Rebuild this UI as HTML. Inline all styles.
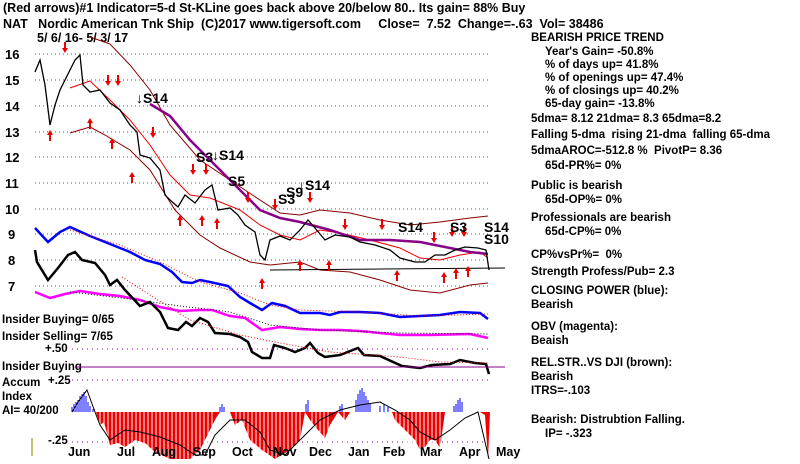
<!DOCTYPE html>
<html><head><meta charset="utf-8"><style>
body{margin:0;background:#fff;width:800px;height:459px;overflow:hidden}
svg text{font-family:"Liberation Sans",sans-serif;font-weight:bold;fill:#000;white-space:pre}
</style></head><body>
<svg width="800" height="459" viewBox="0 0 800 459" xmlns="http://www.w3.org/2000/svg" xml:space="preserve">
<g font-size="12.5">
<text x="3" y="12">(Red arrows)#1 Indicator=5-d St-KLine goes back above 20/below 80.. Its gain= 88% Buy</text>
<text x="3" y="28">NAT   Nordic American Tnk Ship  (C)2017 www.tigersoft.com     Close=  7.52  Change=-.63  Vol= 38486</text>
<text x="37" y="42">5/ 6/ 16- 5/ 3/ 17</text>
</g>
<g font-size="13" font-weight="normal">
<text x="5" y="59">16</text><text x="5" y="85">15</text><text x="5" y="111">14</text><text x="5" y="137">13</text>
<text x="5" y="162">12</text><text x="5" y="188">11</text><text x="5" y="214">10</text><text x="8" y="239">9</text>
<text x="8" y="265">8</text><text x="8" y="291">7</text>
</g>
<g stroke="#090" stroke-dasharray="1,3" stroke-width="1">
<line x1="35" y1="54" x2="490" y2="54"/><line x1="35" y1="80" x2="490" y2="80"/><line x1="35" y1="106" x2="490" y2="106"/>
<line x1="35" y1="132" x2="490" y2="132"/><line x1="35" y1="157" x2="490" y2="157"/><line x1="35" y1="183" x2="490" y2="183"/>
<line x1="35" y1="209" x2="490" y2="209"/><line x1="35" y1="234" x2="490" y2="234"/><line x1="35" y1="260" x2="490" y2="260"/>
<line x1="35" y1="286" x2="490" y2="286"/>
</g>
<polyline fill="none" stroke="#800" stroke-width="1" points="70,133 90,127 105,135 130,150 150,170 175,210 200,235 220,248 250,262 270,265 300,262 320,270 350,272 380,280 410,290 440,293 470,285 488,283"/>
<polyline fill="none" stroke="#800" stroke-width="1" points="90,37 110,44 130,65 150,90 170,125 200,160 230,180 260,200 280,213 300,215 320,210 350,213 380,220 410,225 440,222 470,218 488,216"/>
<polyline fill="none" stroke="#e00" stroke-width="1" points="70,88 90,81 110,100 130,120 150,145 170,175 190,195 210,198 240,210 260,225 280,235 300,240 320,230 340,233 370,240 400,248 420,258 440,260 460,255 480,252 488,258"/>
<polyline fill="none" stroke="#808" stroke-width="2.5" points="150,104 170,116 190,140 210,160 230,180 260,210 280,218 300,222 330,230 360,240 390,240 420,242 450,248 470,252 488,254"/>
<line x1="270" y1="270" x2="505" y2="268" stroke="#000"/>
<polyline fill="none" stroke="#000" stroke-width="1.3" points="35,72 40,60 45,85 50,125 55,105 60,90 65,80 70,70 75,60 80,55 83,85 90,92 100,90 110,103 120,110 130,125 137,132 140,155 150,158 160,170 165,195 170,200 178,207 185,195 195,203 205,190 212,185 218,210 230,208 238,215 245,225 255,232 260,255 265,260 270,240 280,236 290,240 300,230 308,220 315,228 325,240 335,235 350,237 360,242 375,245 390,250 400,258 415,262 425,262 435,255 445,255 455,250 465,247 478,248 486,250 489,270"/>
<g fill="#e00">
<path d="M50,130 l-3,5 h2 v6 h2 v-6 h2z"/><path d="M90,118 l-3,5 h2 v6 h2 v-6 h2z"/><path d="M112,138 l-3,5 h2 v6 h2 v-6 h2z"/>
<path d="M132,172 l-3,5 h2 v6 h2 v-6 h2z"/><path d="M180,215 l-3,5 h2 v6 h2 v-6 h2z"/><path d="M202,215 l-3,5 h2 v6 h2 v-6 h2z"/>
<path d="M217,218 l-3,5 h2 v6 h2 v-6 h2z"/><path d="M262,278 l-3,5 h2 v6 h2 v-6 h2z"/><path d="M300,260 l-3,5 h2 v6 h2 v-6 h2z"/>
<path d="M329,260 l-3,5 h2 v6 h2 v-6 h2z"/><path d="M397,270 l-3,5 h2 v6 h2 v-6 h2z"/><path d="M444,272 l-3,5 h2 v6 h2 v-6 h2z"/>
<path d="M456,268 l-3,5 h2 v6 h2 v-6 h2z"/><path d="M468,266 l-3,5 h2 v6 h2 v-6 h2z"/>
<path d="M65,53 l-3,-5 h2 v-6 h2 v6 h2z"/><path d="M108,86 l-3,-5 h2 v-6 h2 v6 h2z"/><path d="M118,86 l-3,-5 h2 v-6 h2 v6 h2z"/>
<path d="M153,138 l-3,-5 h2 v-6 h2 v6 h2z"/><path d="M193,175 l-3,-5 h2 v-6 h2 v6 h2z"/><path d="M206,175 l-3,-5 h2 v-6 h2 v6 h2z"/>
<path d="M248,203 l-3,-5 h2 v-6 h2 v6 h2z"/><path d="M275,210 l-3,-5 h2 v-6 h2 v6 h2z"/><path d="M310,203 l-3,-5 h2 v-6 h2 v6 h2z"/>
<path d="M345,230 l-3,-5 h2 v-6 h2 v6 h2z"/><path d="M382,230 l-3,-5 h2 v-6 h2 v6 h2z"/><path d="M434,243 l-3,-5 h2 v-6 h2 v6 h2z"/>
<path d="M452,237 l-3,-5 h2 v-6 h2 v6 h2z"/><path d="M464,237 l-3,-5 h2 v-6 h2 v6 h2z"/>
</g>
<g font-size="14" font-weight="normal">
<text x="136" y="103">↓S14</text><text x="196" y="162">S3</text><text x="212" y="160">↓S14</text>
<text x="228" y="186">S5</text><text x="278" y="204">S3</text><text x="286" y="197">S9</text><text x="298" y="190">↓S14</text>
<text x="398" y="232">S14</text><text x="450" y="232">S3</text><text x="484" y="232">S14</text><text x="484" y="244">S10</text>
</g>
<polyline fill="none" stroke="#00f" stroke-width="2.5" points="35,228 48,242 60,232 70,227 90,236 100,240 115,246 130,252 145,260 160,264 172,272 182,282 192,283 200,280 210,282 228,286 240,297 250,303 262,310 272,303 285,306 300,313 320,313 330,315 340,312 360,312 380,313 400,317 420,316 440,315 460,312 480,313 488,319"/>
<polyline fill="none" stroke="#e00" stroke-width="1" stroke-dasharray="1,2" points="70,230 120,245 160,262 200,282 240,293 270,305 300,310 360,312 420,316 488,314"/>
<polyline fill="none" stroke="#f0f" stroke-width="2.5" points="35,292 50,298 65,294 80,291 100,294 120,296 140,300 160,307 180,311 200,310 212,310 230,316 245,318 262,330 280,327 300,329 320,330 340,330 360,331 400,335 430,335 470,334 488,338"/>
<polyline fill="none" stroke="#000" stroke-width="1" stroke-dasharray="1,2" points="70,292 130,299 180,306 230,312 270,325 320,330 400,333 488,334"/>
<polyline fill="none" stroke="#000" stroke-width="2.5" points="35,250 37,262 48,280 58,268 68,255 75,252 82,260 95,263 105,275 110,285 117,280 125,290 140,306 150,302 160,312 168,328 178,330 186,322 192,326 200,318 208,322 215,333 230,334 240,337 248,342 252,352 262,358 270,358 274,345 285,348 295,352 305,348 310,343 318,353 325,357 340,355 358,348 364,355 380,356 402,366 420,368 432,365 450,364 460,360 475,363 486,364 489,374"/>
<polyline fill="none" stroke="#e00" stroke-width="1" stroke-dasharray="1,2" points="122,277 150,295 190,320 240,335 280,343 330,352 400,357 440,362 488,363"/>
<g font-size="11.5">
<text x="2" y="323">Insider Buying= 0/65</text>
<text x="2" y="340">Insider Selling= 7/65</text>
<text x="45" y="352">+.50</text>
<text x="2" y="370">Insider Buying</text>
<text x="2" y="386">Accum</text><text x="48" y="384">+.25</text>
<text x="2" y="400">Index</text>
<text x="2" y="414">AI= 40/200</text>
<text x="48" y="444">-.25</text>
</g>
<g stroke="#808" stroke-dasharray="1,4"><line x1="72" y1="349" x2="490" y2="349"/><line x1="72" y1="380" x2="490" y2="380"/><line x1="72" y1="442" x2="490" y2="442"/></g>
<line x1="75" y1="367" x2="505" y2="367" stroke="#808"/>
<line x1="32" y1="438" x2="32" y2="456" stroke="#880"/>
<g stroke-width="1">
<path stroke="#00f" d="M72,412v-5M74,412v-8M76,412v-10M78,412v-12M80,412v-16M82,412v-18M84,412v-20M86,412v-16M88,412v-10M90,412v-6M93,412v-3M220,412v-5M222,412v-8M224,412v-5M306,412v-8M308,412v-12M340,412v-6M342,412v-8M356,412v-12M358,412v-18M360,412v-22M362,412v-24M364,412v-20M366,412v-16M368,412v-12M370,412v-8M380,412v-6M384,412v-8M388,412v-5M454,412v-6M456,412v-8M458,412v-12M460,412v-14M462,412v-10"/>
</g>
<path fill="#e00" stroke="none" d="M96,412 L100,425 104,422 110,445 118,443 125,447 135,440 145,443 155,452 170,459 190,459 200,450 210,430 216,418 220,412 230,412 235,425 242,420 250,440 262,450 275,459 290,450 300,440 305,412 310,420 318,430 325,438 330,425 338,412 345,420 350,412 356,412 300,412 Z M392,412 L395,420 405,430 415,440 420,450 425,447 430,440 435,440 440,448 445,412 Z M480,412 L485,415 488,459 490,412 Z"/>
<g stroke="#fff" stroke-width="1">
<path d="M100,412v47M104,412v47M108,412v47M112,412v47M116,412v47M120,412v47M124,412v47M128,412v47M132,412v47M136,412v47M140,412v47M144,412v47M148,412v47M152,412v47M156,412v47M160,412v47M164,412v47M168,412v47M172,412v47M176,412v47M180,412v47M184,412v47M188,412v47M192,412v47M196,412v47M200,412v47M204,412v47M208,412v47M212,412v47M236,412v47M240,412v47M244,412v47M248,412v47M252,412v47M256,412v47M260,412v47M264,412v47M268,412v47M272,412v47M276,412v47M280,412v47M284,412v47M288,412v47M292,412v47M296,412v47M300,412v47M312,412v47M316,412v47M320,412v47M324,412v47M328,412v47M344,412v47M396,412v47M400,412v47M404,412v47M408,412v47M412,412v47M416,412v47M420,412v47M424,412v47M428,412v47M432,412v47M436,412v47M440,412v47"/>
</g>
<polyline fill="none" stroke="#000" stroke-width="1" points="72,412 78,402 87,390 95,412 100,425 110,440 125,430 140,432 160,437 180,445 195,455 205,455 215,435 230,420 245,420 260,432 270,450 285,455 300,440 320,420 340,410 360,405 380,402 395,410 410,420 420,432 435,440 450,430 465,418 478,412 489,459"/>
<g font-size="12.5">
<text x="68" y="456">Jun</text><text x="117" y="456">Jul</text><text x="152" y="456">Aug</text><text x="193" y="456">Sep</text><text x="232" y="456">Oct</text><text x="273" y="456">Nov</text><text x="309" y="456">Dec</text><text x="348" y="456">Jan</text><text x="383" y="456">Feb</text><text x="420" y="456">Mar</text><text x="459" y="456">Apr</text><text x="496" y="456">May</text>
</g>
<g font-size="11.5">
<text x="531" y="41">BEARISH PRICE TREND</text>
<text x="545" y="55">Year's Gain= -50.8%</text>
<text x="545" y="68">% of days up= 41.8%</text>
<text x="545" y="81">% of openings up= 47.4%</text>
<text x="545" y="94">% of closings up= 40.2%</text>
<text x="545" y="107">65-day gain= -13.8%</text>
<text x="531" y="122">5dma= 8.12 21dma= 8.3 65dma=8.2</text>
<text x="531" y="138">Falling 5-dma  rising 21-dma  falling 65-dma</text>
<text x="531" y="154">5dmaAROC=-512.8 %  PivotP= 8.36</text>
<text x="545" y="169">65d-PR%= 0%</text>
<text x="531" y="189">Public is bearish</text>
<text x="545" y="203">65d-OP%= 0%</text>
<text x="531" y="221">Professionals are bearish</text>
<text x="545" y="235">65d-CP%= 0%</text>
<text x="531" y="258">CP%vsPr%=  0%</text>
<text x="531" y="275">Strength Profess/Pub= 2.3</text>
<text x="531" y="294">CLOSING POWER (blue):</text>
<text x="531" y="308">Bearish</text>
<text x="531" y="330">OBV (magenta):</text>
<text x="531" y="344">Beaish</text>
<text x="531" y="366">REL.STR..VS DJI (brown):</text>
<text x="531" y="380">Bearish</text>
<text x="531" y="394">ITRS=-.103</text>
<text x="531" y="423">Bearish: Distrubtion Falling.</text>
<text x="545" y="437">IP= -.323</text>
</g>
</svg>
</body></html>
